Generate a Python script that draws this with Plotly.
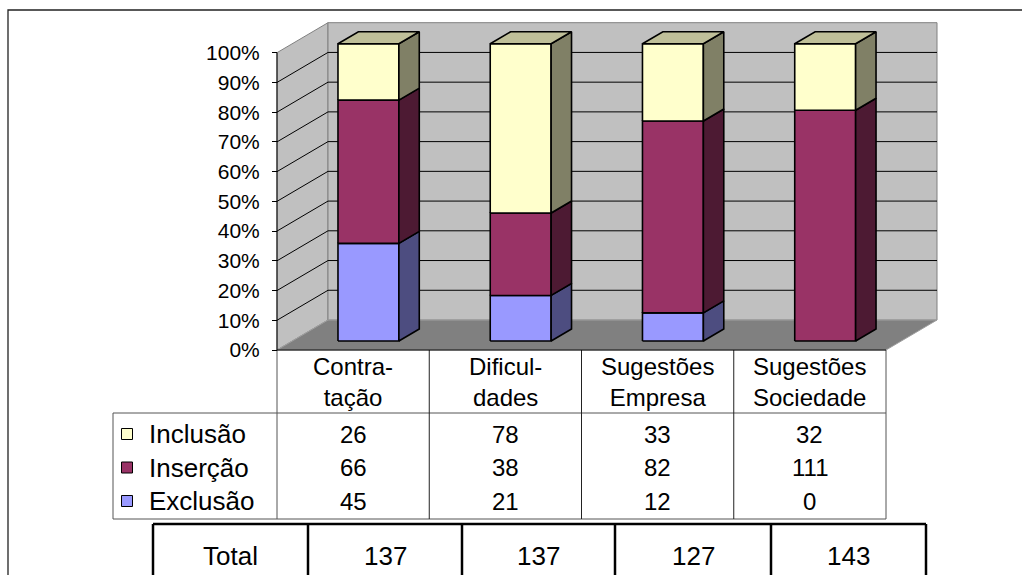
import plotly.graph_objects as go

# ---------------- data ----------------
categories = ["Contra-\ntação", "Dificul-\ndades", "Sugestões\nEmpresa", "Sugestões\nSociedade"]
series_names = ["Inclusão", "Inserção", "Exclusão"]          # table order, top to bottom
inclusao = [26, 78, 33, 32]
insercao = [66, 38, 82, 111]
exclusao = [45, 21, 12, 0]
y_ticks = [0, 10, 20, 30, 40, 50, 60, 70, 80, 90, 100]
y_tick_labels = [f"{v}%" for v in y_ticks]
total_label = "Total"

# ---------------- styling ----------------
front_colors = {"Inclusão": "#FFFFCC", "Inserção": "#993366", "Exclusão": "#9999FF"}
side_colors = {"Inclusão": "#808066", "Inserção": "#4D1A33", "Exclusão": "#4D4D80"}
top_colors = {"Inclusão": "#BFBF99", "Inserção": "#732650", "Exclusão": "#7373BF"}
FONT = "Liberation Sans, Arial, sans-serif"

W, H = 1022, 575
AX_X0 = 277.0      # pixel of category 0 on the front plane
CAT_W = 152.25     # pixels per category
Y0 = 350.0         # pixel of 0 %
PCT = 2.973        # pixels per percent


def xd(px):
    return (px - AX_X0) / CAT_W


def yd(py):
    return (Y0 - py) / PCT


DX = 51 / CAT_W    # depth offset (category units)
DY = 30 / PCT      # depth offset (percent units)
N = len(categories)

traces = []


def poly(xs, ys, fill, lc, lw):
    traces.append(go.Scatter(x=list(xs) + [xs[0]], y=list(ys) + [ys[0]], mode="lines",
                             fill="toself", fillcolor=fill,
                             line=dict(color=lc, width=lw), hoverinfo="skip"))


def line(xs, ys, lc, lw):
    traces.append(go.Scatter(x=list(xs), y=list(ys), mode="lines",
                             line=dict(color=lc, width=lw), hoverinfo="skip"))


# walls and floor
poly([0, 0, DX, DX], [0, 100, 100 + DY, DY], "#C0C0C0", "#808080", 1)
poly([DX, N + DX, N + DX, DX], [DY, DY, 100 + DY, 100 + DY], "#C0C0C0", "#808080", 1)
poly([0, N, N + DX, DX], [0, 0, DY, DY], "#808080", "#A0A0A0", 1)

# gridlines
for v in y_ticks[1:-1]:
    line([0, DX, N + DX], [v, v + DY, v + DY], "#000000", 1)

# front axis line
line([0, 0], [0, 100], "#000000", 1)

# bars
stack = [("Exclusão", exclusao), ("Inserção", insercao), ("Inclusão", inclusao)]
fx, fy = 0.3 * DX, 0.3 * DY
bdx, bdy = 0.4 * DX, 0.4 * DY
for i in range(N):
    total = sum(vals[i] for _, vals in stack)
    cx = i + 0.5 + fx
    xl, xr = cx - 0.2, cx + 0.2
    base = 0.0
    top_name = None
    for name, vals in stack:
        h = vals[i] / total * 100
        if h <= 0:
            continue
        b, t = base + fy, base + h + fy
        poly([xl, xr, xr, xl], [b, b, t, t], front_colors[name], "#000000", 1.6)
        poly([xr, xr + bdx, xr + bdx, xr], [b, b + bdy, t + bdy, t], side_colors[name], "#000000", 1.6)
        base += h
        top_name = name
    t = base + fy
    poly([xl, xr, xr + bdx, xl + bdx], [t, t, t + bdy, t + bdy], top_colors[top_name], "#000000", 1.6)

# data table grid
TL = xd(113)
HDR = yd(413)
BOT = yd(519)
line([TL, N], [HDR, HDR], "#555555", 1)
line([TL, N], [BOT, BOT], "#555555", 1)
line([TL, TL], [HDR, BOT], "#555555", 1)
for k in range(N + 1):
    line([k, k], [0, BOT], "#555555" if k in (0, N) else "#222222", 1)
line([0, N], [0, 0], "#000000", 1.2)

annotations = []


def txt(x, y, s, size, xanchor="center"):
    annotations.append(dict(x=x, y=y, xref="x", yref="y", text=s, showarrow=False,
                            xanchor=xanchor, yanchor="middle",
                            font=dict(family=FONT, size=size, color="#000000")))


# header labels
for i, c in enumerate(categories):
    txt(i + 0.5, yd(381.5), c.replace("\n", "<br>"), 24)

# legend rows
row_y = [yd(434), yd(467.5), yd(501)]
series_vals = {"Inclusão": inclusao, "Inserção": insercao, "Exclusão": exclusao}
traces.append(go.Scatter(x=[xd(127)] * 3, y=row_y, mode="markers", hoverinfo="skip",
                         marker=dict(symbol="square", size=11,
                                     color=[front_colors[n] for n in series_names],
                                     line=dict(color="#000000", width=1))))
for r, name in enumerate(series_names):
    txt(xd(147), row_y[r], name, 26, xanchor="left")
    for i in range(N):
        txt(i + 0.5, row_y[r], str(series_vals[name][i]), 24)

# total box
tot_cols = [xd(p) for p in (153, 308, 462, 615, 771, 926)]
TT = yd(524)
line([tot_cols[0], tot_cols[-1]], [TT, TT], "#000000", 2.5)
for c in tot_cols:
    line([c, c], [TT, yd(590)], "#000000", 2.5)
totals = [inclusao[i] + insercao[i] + exclusao[i] for i in range(N)]
row_texts = [total_label] + [str(t) for t in totals]
for k, s in enumerate(row_texts):
    txt((tot_cols[k] + tot_cols[k + 1]) / 2, yd(556), s, 26)

# outer frame
line([xd(8), xd(8), xd(1040)], [yd(590), yd(10), yd(10)], "#222222", 1.3)

fig = go.Figure(traces)
fig.update_layout(
    width=W, height=H, margin=dict(l=0, r=0, t=0, b=0),
    paper_bgcolor="white", plot_bgcolor="white", showlegend=False, hovermode=False,
    annotations=annotations,
    xaxis=dict(range=[xd(0), xd(W)], visible=False, fixedrange=True),
    yaxis=dict(range=[yd(H), yd(0)], anchor="free", position=AX_X0 / W,
               tickvals=y_ticks, ticktext=y_tick_labels, ticks="outside", ticklen=5,
               tickcolor="#000000", tickwidth=1, showgrid=False, zeroline=False,
               showline=False, ticklabelstandoff=8, fixedrange=True,
               tickfont=dict(family=FONT, size=21, color="#000000")),
)
fig.write_html("out.html", config={"displayModeBar": False})
